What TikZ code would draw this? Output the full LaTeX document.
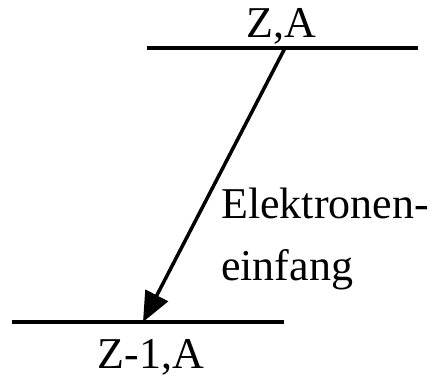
\documentclass[tikz,border=0pt]{standalone}
\usepackage{fontspec}
\setmainfont{Liberation Serif}
\usetikzlibrary{positioning,arrows.meta}

\begin{document}
\begin{tikzpicture}[
			x=1pt,y=-1pt,
			level/.style={line width=3.5pt},
			decay/.style={line width=3.5pt,-{Triangle[length=30pt,width=25pt]}},
			label/.style={inner sep=0pt,font=\fontsize{44}{62}\selectfont}
			]
			\useasboundingbox (0,0) rectangle (436,378);
			
			% Upper level
			\coordinate (upperleft) at (147,48);
			\coordinate (upperright) at (418,48);
			\coordinate (start) at (285,48);
			\draw[level] (upperleft) -- (upperright);
			\node[label,anchor=base] (upper) at (281,37) {Z,A};
			
			% Lower level
			\coordinate (lowerleft) at (12,322);
			\coordinate (lowerright) at (284,322);
			\coordinate (end) at (143,322);
			\draw[level] (lowerleft) -- (lowerright);
			\node[label,anchor=base] (lower) at (151,368) {Z-1,A};
			
			% Electron capture
			\draw[decay] (start) -- (end);
			\node[
			label,
			align=left,
			anchor=base west
			]
			(capture)
			at (221,280)
			{Elektronen-\\einfang};
			
		\end{tikzpicture}
\end{document}
